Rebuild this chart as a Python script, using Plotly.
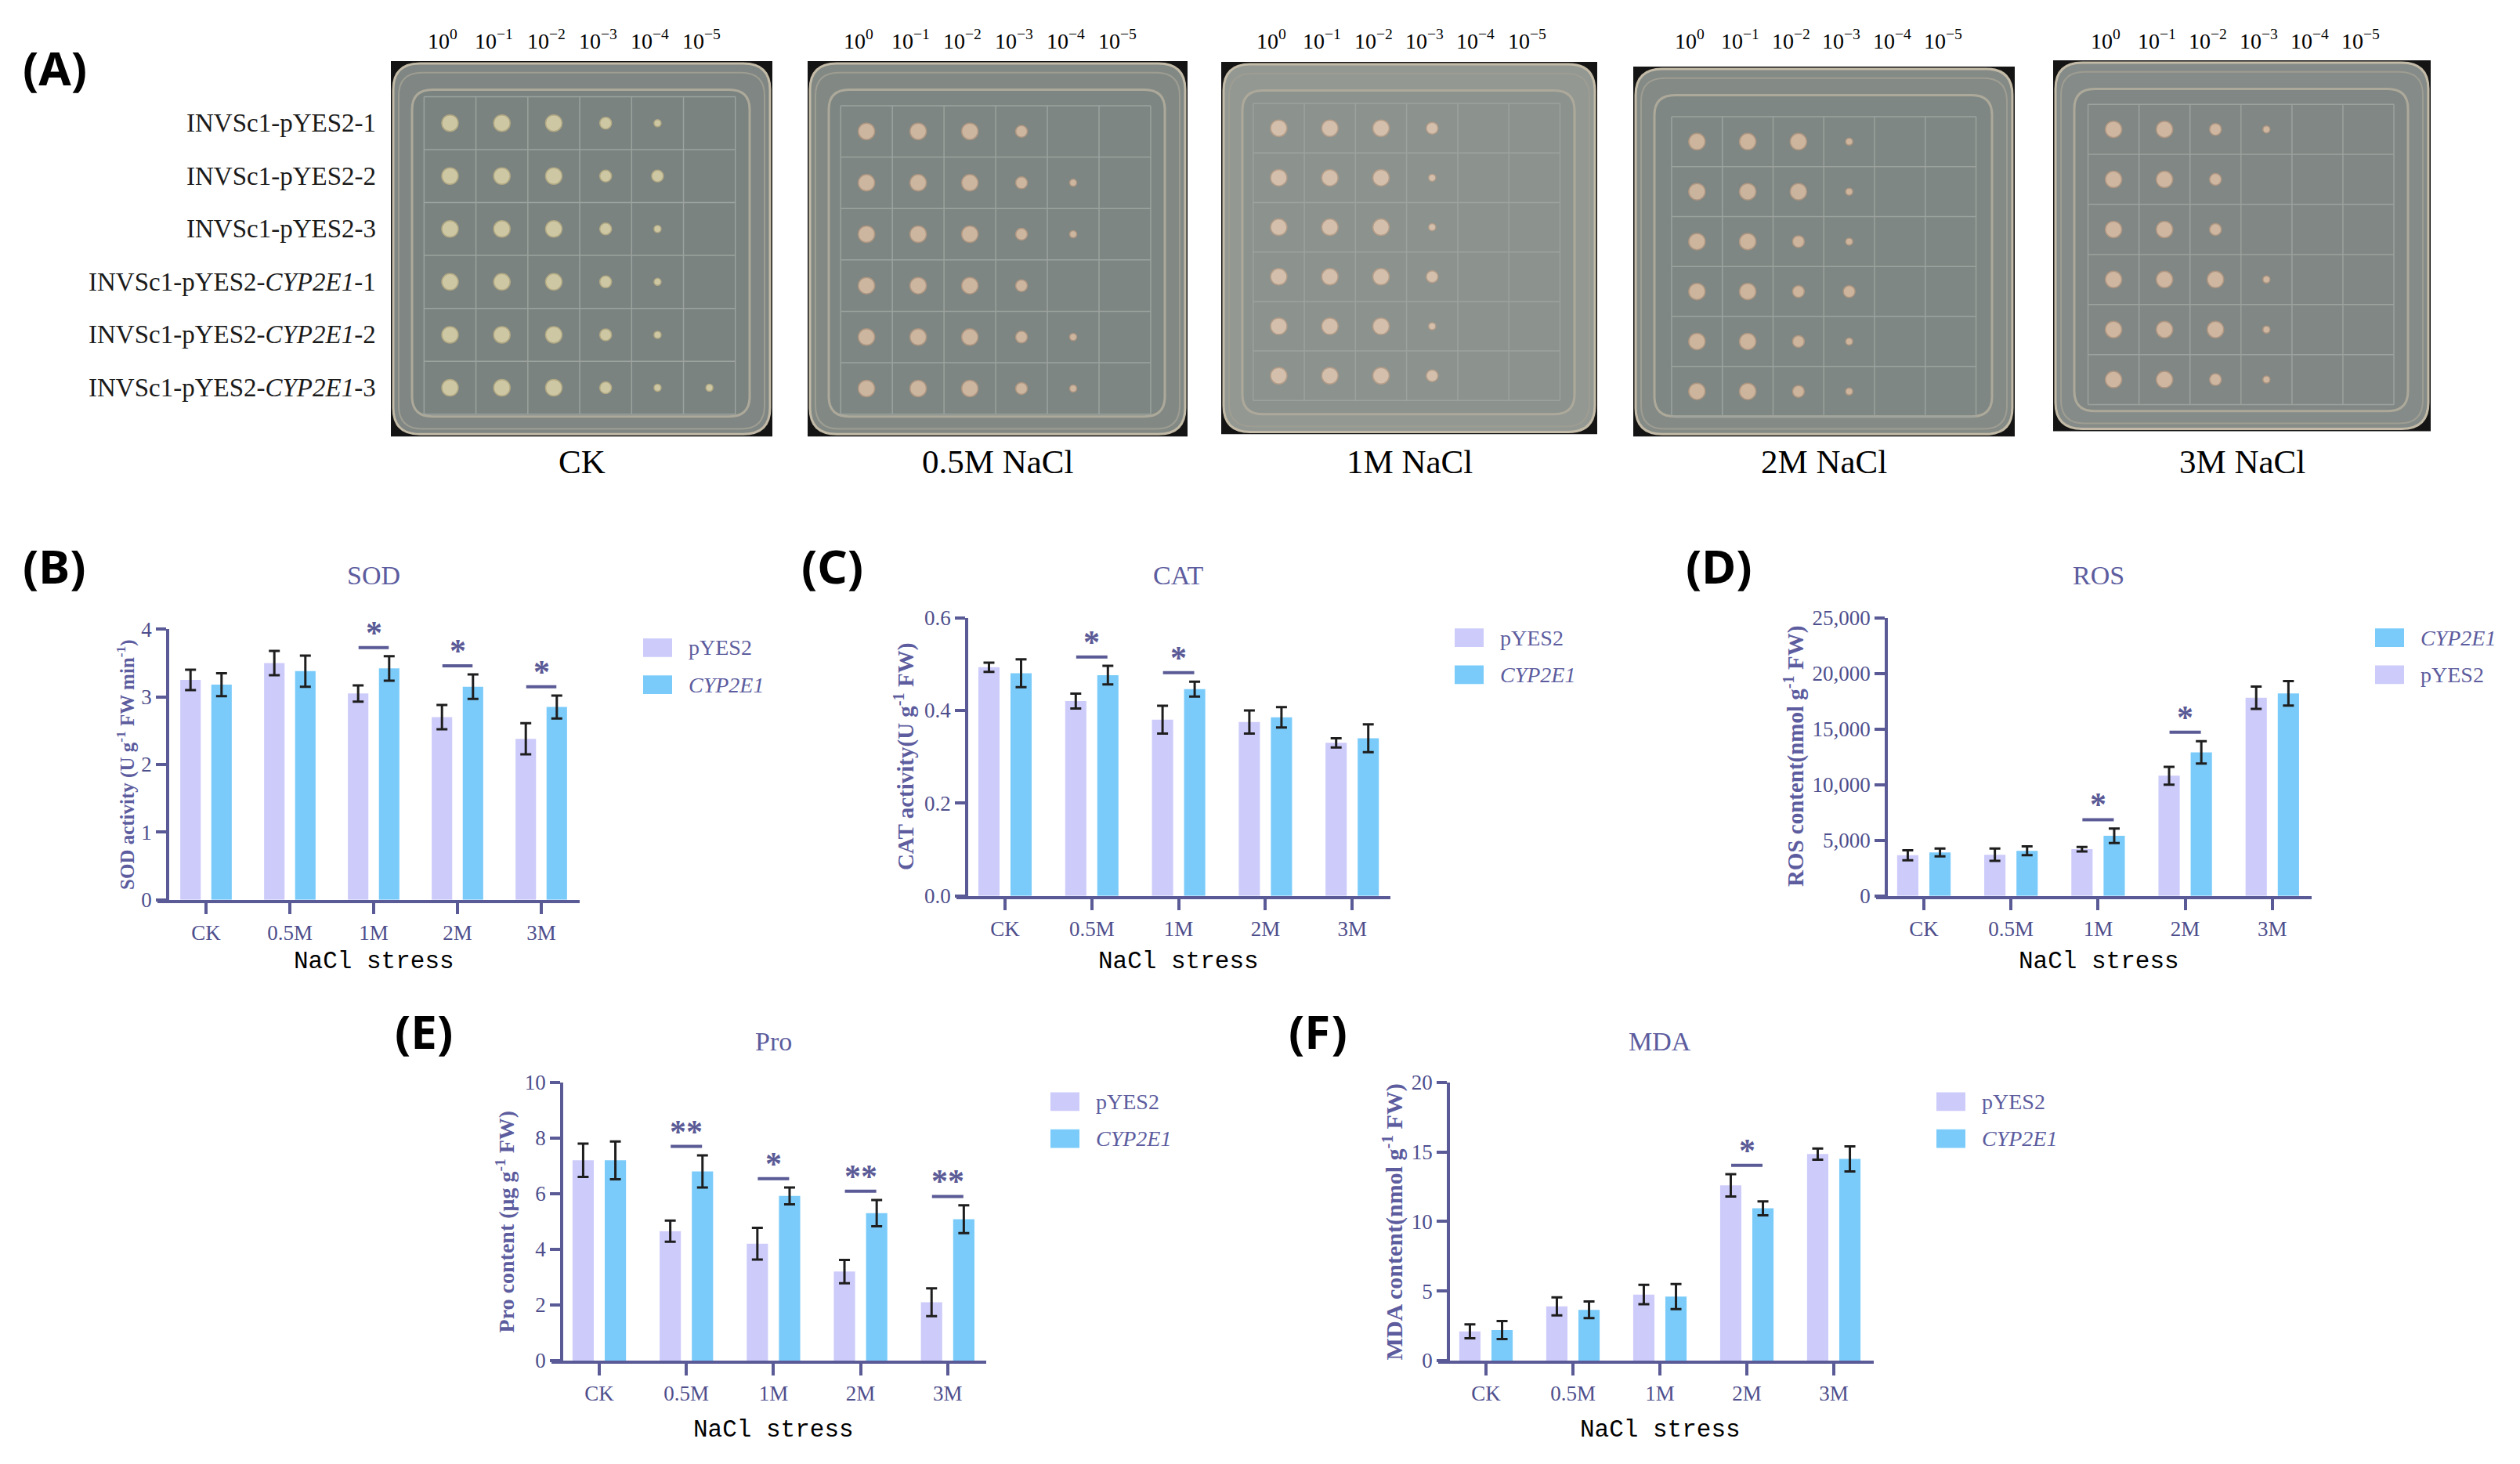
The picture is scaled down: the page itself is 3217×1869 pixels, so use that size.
import plotly.graph_objects as go

W, H = 3217, 1869
OFF = 8  # page margin of the html body

# ---------------- data ----------------
categories = ["CK", "0.5M", "1M", "2M", "3M"]

sod_pyes2 = [3.25, 3.50, 3.05, 2.70, 2.38]
sod_pyes2_err = [0.15, 0.18, 0.12, 0.18, 0.23]
sod_cyp = [3.18, 3.38, 3.42, 3.15, 2.85]
sod_cyp_err = [0.17, 0.23, 0.18, 0.18, 0.17]
sod_sig = ["", "", "*", "*", "*"]

cat_pyes2 = [0.493, 0.420, 0.380, 0.375, 0.330]
cat_pyes2_err = [0.010, 0.016, 0.030, 0.025, 0.010]
cat_cyp = [0.480, 0.476, 0.446, 0.385, 0.340]
cat_cyp_err = [0.030, 0.020, 0.016, 0.022, 0.030]
cat_sig = ["", "*", "*", "", ""]

ros_pyes2 = [3650, 3700, 4200, 10800, 17800]
ros_pyes2_err = [450, 550, 200, 800, 1000]
ros_cyp = [3900, 4050, 5400, 12900, 18200]
ros_cyp_err = [350, 400, 650, 1000, 1100]
ros_sig = ["", "", "*", "*", ""]

pro_pyes2 = [7.20, 4.65, 4.20, 3.20, 2.10]
pro_pyes2_err = [0.60, 0.38, 0.57, 0.42, 0.50]
pro_cyp = [7.20, 6.80, 5.92, 5.30, 5.08]
pro_cyp_err = [0.68, 0.58, 0.30, 0.47, 0.50]
pro_sig = ["", "**", "*", "**", "**"]

mda_pyes2 = [2.10, 3.90, 4.75, 12.60, 14.85]
mda_pyes2_err = [0.50, 0.65, 0.70, 0.80, 0.40]
mda_cyp = [2.20, 3.65, 4.60, 10.95, 14.50]
mda_cyp_err = [0.65, 0.60, 0.90, 0.50, 0.90]
mda_sig = ["", "", "", "*", ""]

# spot assay: colony size per strain row (6) x dilution (6); 0 = no growth
dilutions = ["10<sup>0</sup>", "10<sup>\u22121</sup>", "10<sup>\u22122</sup>",
             "10<sup>\u22123</sup>", "10<sup>\u22124</sup>", "10<sup>\u22125</sup>"]
strains = ["INVSc1-pYES2-1", "INVSc1-pYES2-2", "INVSc1-pYES2-3",
           "INVSc1-pYES2-<i>CYP2E1</i>-1", "INVSc1-pYES2-<i>CYP2E1</i>-2",
           "INVSc1-pYES2-<i>CYP2E1</i>-3"]
treatments = ["CK", "0.5M NaCl", "1M NaCl", "2M NaCl", "3M NaCl"]
growth_ck = [[3, 3, 3, 2, 1, 0], [3, 3, 3, 2, 2, 0], [3, 3, 3, 2, 1, 0],
             [3, 3, 3, 2, 1, 0], [3, 3, 3, 2, 1, 0], [3, 3, 3, 2, 1, 1]]
growth_05 = [[3, 3, 3, 2, 0, 0], [3, 3, 3, 2, 1, 0], [3, 3, 3, 2, 1, 0],
             [3, 3, 3, 2, 0, 0], [3, 3, 3, 2, 1, 0], [3, 3, 3, 2, 1, 0]]
growth_1 = [[3, 3, 3, 2, 0, 0], [3, 3, 3, 1, 0, 0], [3, 3, 3, 1, 0, 0],
            [3, 3, 3, 2, 0, 0], [3, 3, 3, 1, 0, 0], [3, 3, 3, 2, 0, 0]]
growth_2 = [[3, 3, 3, 1, 0, 0], [3, 3, 3, 1, 0, 0], [3, 3, 2, 1, 0, 0],
            [3, 3, 2, 2, 0, 0], [3, 3, 2, 1, 0, 0], [3, 3, 2, 1, 0, 0]]
growth_3 = [[3, 3, 2, 1, 0, 0], [3, 3, 2, 0, 0, 0], [3, 3, 2, 0, 0, 0],
            [3, 3, 3, 1, 0, 0], [3, 3, 3, 1, 0, 0], [3, 3, 2, 1, 0, 0]]
growth = [growth_ck, growth_05, growth_1, growth_2, growth_3]

# ---------------- style ----------------
AX = "#5A5A96"
TICK = "#4E4E8C"
TITLE = "#5C5C9E"
C_PY = "#CDCBFA"
C_CY = "#7ACBFA"
SERIF = "Liberation Serif"


def fx(v):
    return (v - OFF) / W


def fy(v):
    return 1 - (v - OFF) / H


def rrect(x0, y0, x1, y1, r):
    X = lambda v: f"{fx(v):.5f}"
    Y = lambda v: f"{fy(v):.5f}"
    return (f"M{X(x0 + r)},{Y(y0)} L{X(x1 - r)},{Y(y0)} Q{X(x1)},{Y(y0)} {X(x1)},{Y(y0 + r)} "
            f"L{X(x1)},{Y(y1 - r)} Q{X(x1)},{Y(y1)} {X(x1 - r)},{Y(y1)} L{X(x0 + r)},{Y(y1)} "
            f"Q{X(x0)},{Y(y1)} {X(x0)},{Y(y1 - r)} L{X(x0)},{Y(y0 + r)} Q{X(x0)},{Y(y0)} {X(x0 + r)},{Y(y0)} Z")


def note(x, y, text, size, color, family=SERIF, **kw):
    d = dict(xref="paper", yref="paper", x=fx(x), y=fy(y), text=text, showarrow=False,
             xanchor="center", yanchor="middle", font=dict(family=family, size=size, color=color))
    d.update(kw)
    return d


fig = go.Figure()
layout = {}
shapes = []
annotations = []

# ---------------- panel A: plates ----------------
plate_boxes = [(499, 986, 64, 551), (1031, 1516, 64, 551), (1559, 2039, 65, 548),
               (2085, 2572, 71, 551), (2621, 3103, 63, 544)]
# colony grid inside each photo: first column / row as fraction of the photo, and spacing
col0 = [0.155, 0.155, 0.153, 0.167, 0.160]
colstep = [0.136, 0.136, 0.136, 0.133, 0.135]
row0 = [0.165, 0.187, 0.178, 0.203, 0.186]
rowstep = [0.141, 0.137, 0.133, 0.135, 0.135]
plate_fill = ["#7A8380", "#7D8682", "#8C928E", "#7E8783", "#808784"]
rim_fill = ["#7F8683", "#828985", "#939893", "#848A86", "#858B88"]
colony_col = ["#F1E5B2", "#EFCBAE", "#F1D2B8", "#EDC8A8", "#EFCBAE"]
colony_edge = ["#C9B884", "#C29C80", "#C5A286", "#C29C80", "#C29C80"]
size_px = {1: 9, 2: 15, 3: 21}

for k, (x0, x1, y0, y1) in enumerate(plate_boxes):
    n = k + 1
    w, h = x1 - x0, y1 - y0
    sfx = "" if n == 1 else str(n)
    xa, ya = "x" + sfx, "y" + sfx
    shapes.append(dict(type="rect", xref="paper", yref="paper", x0=fx(x0), x1=fx(x1),
                       y0=fy(y1), y1=fy(y0), fillcolor="#141414", line_width=0, layer="below"))
    shapes.append(dict(type="path", xref="paper", yref="paper", path=rrect(x0 + 3, y0 + 3, x1 - 3, y1 - 3, 34),
                       fillcolor=rim_fill[k], line=dict(color="#C2BAA6", width=3), layer="below"))
    shapes.append(dict(type="path", xref="paper", yref="paper", path=rrect(x0 + 10, y0 + 15, x1 - 10, y1 - 10, 30),
                       fillcolor="rgba(0,0,0,0)", line=dict(color="#9E9D92", width=2), layer="below"))
    shapes.append(dict(type="path", xref="paper", yref="paper",
                       path=rrect(x0 + 27, y0 + 37, x1 - 29, y1 - 26, 26),
                       fillcolor=plate_fill[k], line=dict(color="#ADA99A", width=3), layer="below"))
    cs, rs = colstep[k], rowstep[k]
    layout["xaxis" + sfx] = dict(domain=[fx(x0), fx(x1)], range=[-col0[k] / cs, (1 - col0[k]) / cs],
                                 anchor=ya, visible=False)
    layout["yaxis" + sfx] = dict(domain=[fy(y1), fy(y0)], range=[(1 - row0[k]) / rs, -row0[k] / rs],
                                 anchor=xa, visible=False)
    # ruled grid printed on the plate
    for g in range(7):
        v = g - 0.5
        shapes.append(dict(type="line", xref=xa, yref=ya, x0=v, x1=v, y0=-0.5, y1=5.5,
                           line=dict(color="#9CA39F", width=1.5), layer="below"))
        shapes.append(dict(type="line", xref=xa, yref=ya, x0=-0.5, x1=5.5, y0=v, y1=v,
                           line=dict(color="#9CA39F", width=1.5), layer="below"))
    xs, ys, ss = [], [], []
    for r, row in enumerate(growth[k]):
        for c, g in enumerate(row):
            if g:
                xs.append(c)
                ys.append(r)
                ss.append(size_px[g])
    fig.add_trace(go.Scatter(x=xs, y=ys, mode="markers", xaxis=xa, yaxis=ya,
                             marker=dict(size=ss, color=colony_col[k], line=dict(color=colony_edge[k], width=1.5)),
                             showlegend=False, hoverinfo="skip"))
    for c, lab in enumerate(dilutions):
        annotations.append(dict(xref=xa, yref="paper", x=c - 0.15, y=fy(36), text=lab, showarrow=False,
                                xanchor="center", yanchor="middle",
                                font=dict(family=SERIF, size=28, color="black")))
    annotations.append(note((x0 + x1) / 2, 584, treatments[k], 43, "black"))

for r, lab in enumerate(strains):
    annotations.append(dict(xref="paper", yref="y", x=fx(482), y=r, text=lab, showarrow=False,
                            xanchor="right", yanchor="middle",
                            font=dict(family=SERIF, size=33, color="#1a1a1a")))

annotations.append(note(70, 72, "<b>(A)</b>", 60, "black", family="Noto Sans"))

# ---------------- panels B-F: bar charts ----------------
panels = [
    dict(tag="(B)", tagxy=(70, 718), title="SOD", py=sod_pyes2, pye=sod_pyes2_err, cy=sod_cyp, cye=sod_cyp_err,
         sig=sod_sig, ymax=4, dtick=1, fmt="d",
         ytitle="SOD activity (U g<sup>-1</sup> FW min<sup>-1</sup>)", ytsize=25,
         yline=214, xend=740, c0=263, step=107, ytop=801, ybot=1152, ytx=161,
         titlexy=(477, 731), xlab=(477, 1232), leg=(821, 825), legorder=["py", "cy"]),
    dict(tag="(C)", tagxy=(1062, 718), title="CAT", py=cat_pyes2, pye=cat_pyes2_err, cy=cat_cyp, cye=cat_cyp_err,
         sig=cat_sig, ymax=0.6, dtick=0.2, fmt=".1f",
         ytitle="CAT activity(U g<sup>-1</sup> FW)", ytsize=29,
         yline=1234, xend=1775, c0=1283, step=110.8, ytop=786, ybot=1147, ytx=1154,
         titlexy=(1504, 731), xlab=(1504, 1232), leg=(1857, 812), legorder=["py", "cy"]),
    dict(tag="(D)", tagxy=(2194, 718), title="ROS", py=ros_pyes2, pye=ros_pyes2_err, cy=ros_cyp, cye=ros_cyp_err,
         sig=ros_sig, ymax=25000, dtick=5000, fmt=",d",
         ytitle="ROS content(nmol g<sup>-1</sup> FW)", ytsize=29,
         yline=2408, xend=2951, c0=2456, step=111.2, ytop=786, ybot=1147, ytx=2290,
         titlexy=(2679, 731), xlab=(2679, 1232), leg=(3032, 812), legorder=["cy", "py"]),
    dict(tag="(E)", tagxy=(541, 1322), title="Pro", py=pro_pyes2, pye=pro_pyes2_err, cy=pro_cyp, cye=pro_cyp_err,
         sig=pro_sig, ymax=10, dtick=2, fmt="d",
         ytitle="Pro content (\u03bcg g<sup>-1</sup> FW)", ytsize=28,
         yline=717, xend=1259, c0=765, step=111.2, ytop=1389, ybot=1750, ytx=645,
         titlexy=(987, 1336), xlab=(987, 1840), leg=(1341, 1414), legorder=["py", "cy"]),
    dict(tag="(F)", tagxy=(1683, 1322), title="MDA", py=mda_pyes2, pye=mda_pyes2_err, cy=mda_cyp, cye=mda_cyp_err,
         sig=mda_sig, ymax=20, dtick=5, fmt="d",
         ytitle="MDA content(nmol g<sup>-1</sup> FW)", ytsize=30,
         yline=1849, xend=2392, c0=1897, step=111, ytop=1389, ybot=1750, ytx=1778,
         titlexy=(2119, 1336), xlab=(2119, 1840), leg=(2472, 1414), legorder=["py", "cy"]),
]

for k, p in enumerate(panels):
    n = 6 + k
    xa, ya = f"x{n}", f"y{n}"
    xs0 = p["yline"] - 13
    rng = [(xs0 - p["c0"]) / p["step"], (p["xend"] - p["c0"]) / p["step"]]
    axis_common = dict(showline=True, linecolor=AX, linewidth=3.5, ticks="outside", tickcolor=AX,
                       tickwidth=3.5, showgrid=False, zeroline=False,
                       tickfont=dict(family=SERIF, size=27, color=TICK))
    layout[f"xaxis{n}"] = dict(domain=[fx(xs0), fx(p["xend"])], range=rng, anchor=ya, ticklen=15,
                               tickvals=list(range(len(categories))), ticktext=categories, **axis_common)
    layout[f"yaxis{n}"] = dict(domain=[fy(p["ybot"]), fy(p["ytop"])], range=[0, p["ymax"]], anchor="free",
                               position=fx(p["yline"]), ticklen=13, dtick=p["dtick"], tick0=0,
                               tickformat=p["fmt"], **axis_common)
    fig.add_trace(go.Bar(x=list(range(5)), y=p["py"], xaxis=xa, yaxis=ya, offsetgroup="py",
                         marker=dict(color=C_PY, line_width=0), showlegend=False,
                         error_y=dict(type="data", array=p["pye"], color="#1e1e1e", thickness=3, width=7)))
    fig.add_trace(go.Bar(x=list(range(5)), y=p["cy"], xaxis=xa, yaxis=ya, offsetgroup="cy",
                         marker=dict(color=C_CY, line_width=0), showlegend=False,
                         error_y=dict(type="data", array=p["cye"], color="#1e1e1e", thickness=3, width=7)))
    # significance marks
    for i, s in enumerate(p["sig"]):
        if not s:
            continue
        top = max(p["py"][i] + p["pye"][i], p["cy"][i] + p["cye"][i])
        yl = top + 0.032 * p["ymax"]
        shapes.append(dict(type="line", xref=xa, yref=ya, x0=i - 0.18, x1=i + 0.18, y0=yl, y1=yl,
                           line=dict(color=AX, width=4)))
        annotations.append(dict(xref=xa, yref=ya, x=i, y=yl, text=f"<b>{s}</b>", showarrow=False,
                                xanchor="center", yanchor="bottom", yshift=-6,
                                font=dict(family=SERIF, size=42, color=AX)))
    # titles and labels
    annotations.append(note(*p["tagxy"], f"<b>{p['tag']}</b>", 60, "black", family="Noto Sans"))
    annotations.append(note(*p["titlexy"], p["title"], 34, TITLE))
    annotations.append(note(*p["xlab"], "NaCl stress", 31, "black", family="Liberation Mono"))
    annotations.append(note(p["ytx"], (p["ytop"] + p["ybot"]) / 2, f"<b>{p['ytitle']}</b>",
                            p["ytsize"], TITLE, textangle=-90))
    # legend
    lx, ly = p["leg"]
    names = {"py": ("pYES2", C_PY), "cy": ("<i>CYP2E1</i>", C_CY)}
    for j, key in enumerate(p["legorder"]):
        label, col = names[key]
        cy_ = ly + 48 * j
        shapes.append(dict(type="rect", xref="paper", yref="paper", x0=fx(lx), x1=fx(lx + 37),
                           y0=fy(cy_ + 12), y1=fy(cy_ - 12), fillcolor=col, line_width=0))
        annotations.append(note(lx + 56, cy_, label, 28, TITLE, xanchor="left"))

fig.update_layout(
    width=W, height=H, margin=dict(l=0, r=0, t=0, b=0),
    paper_bgcolor="white", plot_bgcolor="rgba(0,0,0,0)",
    barmode="group", bargap=0.26, bargroupgap=0.34,
    shapes=shapes, annotations=annotations, showlegend=False,
    **layout,
)

fig.write_html("out.html")
